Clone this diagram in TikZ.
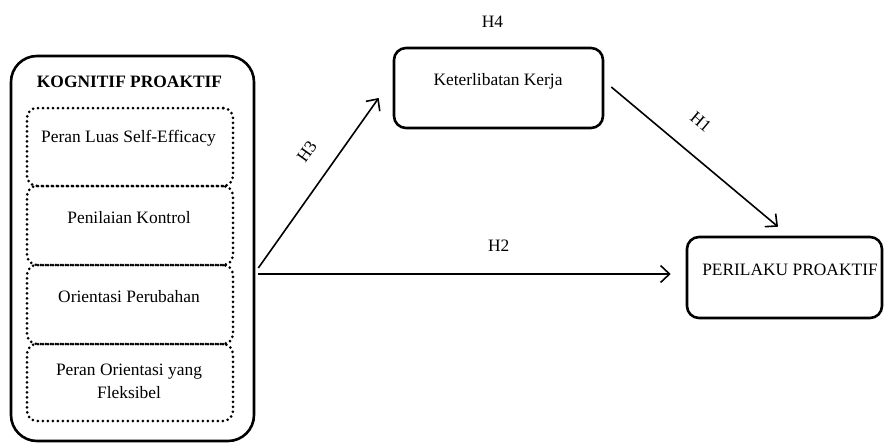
\documentclass[tikz,border=0pt]{standalone}
\usepackage{fontspec}
\setmainfont{Liberation Serif}
\usetikzlibrary{arrows.meta}
\begin{document}
\begin{tikzpicture}[x=1pt,y=-1pt,
  txt/.style={font=\fontsize{17.4}{23}\selectfont, inner sep=0pt, align=center, anchor=base},
  hlabel/.style={font=\fontsize{17.4}{21}\selectfont, inner sep=0pt},
  solidbox/.style={draw, line width=2.6pt, rounded corners=12pt, inner sep=0pt},
  dotbox/.style={draw, line width=3pt, line cap=round, dash pattern=on 0pt off 5pt, rounded corners=10pt, inner sep=0pt, minimum width=206pt},
  conn/.style={line width=1.6pt, -{Straight Barb[length=9pt,width=17pt,line width=1.6pt]}}]
\useasboundingbox (0,0) rectangle (884,445);
% outer box
\node[solidbox, rounded corners=26pt, minimum width=243pt, minimum height=385pt] (outer) at (132.5,248.5) {};
\node[txt, font=\fontsize{17.4}{21}\selectfont\bfseries] (title) at (129.5,87) {KOGNITIF PROAKTIF};
% dotted sub boxes
\node[dotbox, minimum height=78pt] (b1) at (130,147) {};
\node[dotbox, minimum height=79pt] (b2) at (130,225.5) {};
\node[dotbox, minimum height=79pt] (b3) at (130,304.5) {};
\node[dotbox, minimum height=77pt] (b4) at (130,382.5) {};
\node[txt] (t1) at (128.5,142) {Peran Luas Self-Efficacy};
\node[txt] (t2) at (129,223) {Penilaian Kontrol};
\node[txt] (t3) at (129,302) {Orientasi Perubahan};
\node[txt] (t4a) at (129,375) {Peran Orientasi yang};
\node[txt] (t4b) at (129,398) {Fleksibel};
% mediator
\node[solidbox, minimum width=209pt, minimum height=80pt] (kerja) at (498.5,88) {};
\node[txt] (tk) at (498,85) {Keterlibatan Kerja};
\node[txt] (h4) at (492.5,27.5) {H4};
% outcome
\node[solidbox, minimum width=195pt, minimum height=81pt] (perilaku) at (784.5,277.5) {};
\node[txt] (tp) at (790,275) {PERILAKU PROAKTIF};
% connectors
\draw[conn] ([xshift=3pt,yshift=-25.5pt]outer.east) -- ([xshift=-15pt,yshift=3.5pt]perilaku.west)
  node[hlabel, pos=0.583, above=22pt] (h2) {H2};
\draw[conn] ([xshift=3pt,yshift=-19.5pt]outer.east) -- ([xshift=-14pt,yshift=-10pt]kerja.west)
  node[hlabel, pos=0.59, sloped, above=21pt] (h3) {H3};
\draw[conn] ([xshift=7pt,yshift=1pt]kerja.east) -- ([xshift=-6.5pt,yshift=9pt]perilaku.north)
  node[hlabel, pos=0.42, sloped, above=24pt] (h1) {H1};
\end{tikzpicture}
\end{document}
